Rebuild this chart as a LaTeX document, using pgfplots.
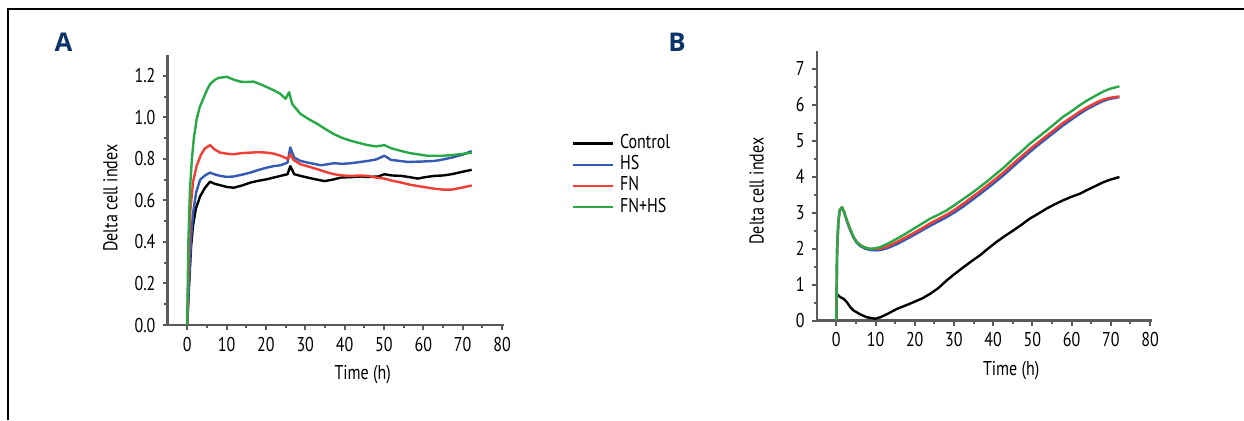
\documentclass[border=0pt]{standalone}
\usepackage{pgfplots}
\pgfplotsset{compat=1.18}
\usepackage{fontspec}
\setmainfont[FakeStretch=0.8]{PT Sans}
\newfontfamily\panelfont{Open Sans}
\definecolor{cblue}{RGB}{52,90,180}
\definecolor{cred}{RGB}{240,62,52}
\definecolor{cgreen}{RGB}{40,168,70}
\definecolor{navy}{RGB}{12,52,104}
\definecolor{axgray}{RGB}{90,90,90}
\pgfplotsset{
  common/.style={
    scale only axis,
    axis lines=left,
    axis line style={axgray, line width=1.2pt, -},
    tick style={axgray, line width=1pt},
    tick align=outside,
    major tick length=2.5pt,
    minor tick length=1.6pt,
    xmin=-5, xmax=80.5,
    xtick={0,10,...,80},
    minor x tick num=1,
    minor y tick num=1,
    ymin=0,
    font=\fontsize{10}{12}\selectfont,
    /pgf/number format/assume math mode=true,
    xlabel={Time (h)},
    ylabel={Delta cell index},
    xlabel style={at={(axis description cs:0.58,0)}, anchor=center, yshift=-25pt},
    every axis plot/.append style={line width=1.2pt, line join=round},
  }
}
\begin{document}
\begin{tikzpicture}
\useasboundingbox (0pt,0pt) rectangle (622pt,210pt);
\draw[line width=0.6pt] (4pt,0pt) -- (4pt,205.5pt) -- (622pt,205.5pt);
\node[font=\panelfont\bfseries\fontsize{12.9}{14}\selectfont, text=navy] at (31.75pt,189pt) {A};
\node[font=\panelfont\bfseries\fontsize{12.9}{14}\selectfont, text=navy] at (338.5pt,189pt) {B};

\begin{axis}[common,
  at={(83.75pt,47.5pt)}, anchor=south west,
  width=168.25pt, height=135pt,
  ymax=1.3,
  ytick={0,0.2,...,1.2},
  ylabel style={at={([xshift=-28.5pt]axis description cs:0,0.47)}, anchor=center},
  yticklabel style={/pgf/number format/.cd, fixed, fixed zerofill, precision=1},
  legend style={at={(axis description cs:1.2,0.707)}, anchor=north west, draw=none, fill=none,
    font=\fontsize{10}{10}\selectfont, row sep=1.6pt, inner sep=0pt,
    nodes={inner sep=0.5pt, text height=6.5pt, text depth=1.5pt}},
  legend cell align=left,
  legend image code/.code={\draw[#1] (0pt,0pt) -- (20pt,0pt); \path (22.5pt,0pt);},
]
\addplot[black] coordinates {
(0,0) (0.5,0.2) (1,0.38) (1.5,0.48) (2.2,0.56) (3.3,0.62) (4.5,0.66) (5.8,0.69) (7,0.68) (8.4,0.673)
(10,0.665) (11.8,0.661) (14,0.672) (16.1,0.686) (18,0.694) (20.3,0.702) (22,0.71) (23.7,0.718) (25.5,0.726)
(26.2,0.765) (27.2,0.726) (28.8,0.718) (30.6,0.71) (32.5,0.702) (34.9,0.693) (37,0.70) (39.1,0.71)
(41.6,0.712) (44.2,0.715) (46,0.713) (48.5,0.715) (50.1,0.726) (52,0.72) (54.4,0.718) (56.5,0.712)
(58.6,0.705) (60.5,0.712) (62.9,0.718) (65,0.72) (67.2,0.726) (70,0.738) (72.3,0.747)};
\addlegendentry{Control}
\addplot[cblue] coordinates {
(0,0) (0.5,0.22) (1,0.42) (1.5,0.54) (2.3,0.64) (3.3,0.70) (4.5,0.72) (5.8,0.734) (7,0.725) (8.4,0.718)
(10,0.713) (11.8,0.715) (14,0.724) (16.1,0.734) (18,0.746) (20.3,0.758) (22,0.765) (23.7,0.769) (25.5,0.782)
(26.2,0.855) (27.2,0.806) (28.8,0.79) (30.6,0.782) (32.5,0.775) (34,0.769) (37.3,0.779) (39.5,0.776)
(41.6,0.779) (44,0.785) (45.9,0.79) (48,0.797) (50.1,0.815) (51.8,0.795) (54,0.79) (56.1,0.785)
(59.5,0.787) (62.9,0.79) (65,0.797) (67.2,0.806) (70,0.82) (72.3,0.838)};
\addlegendentry{HS}
\addplot[cred] coordinates {
(0,0) (0.4,0.3) (0.8,0.55) (1.5,0.69) (2.4,0.766) (3.5,0.82) (4.5,0.85) (5.8,0.866) (7,0.845) (8.4,0.83)
(10,0.825) (11.8,0.822) (14,0.828) (16.1,0.83) (18,0.832) (20.3,0.83) (22,0.825) (23.7,0.815) (25.5,0.800)
(26.2,0.822) (27,0.795) (28.8,0.774) (31,0.762) (33.1,0.75) (35,0.738) (37.3,0.726) (39.5,0.72)
(41.6,0.718) (44,0.72) (45.9,0.718) (48,0.71) (50.1,0.705) (52,0.695) (54.4,0.686) (56.5,0.676)
(58.6,0.669) (61,0.662) (62.9,0.656) (65,0.652) (67.2,0.652) (70,0.662) (72.3,0.672)};
\addlegendentry{FN}
\addplot[cgreen] coordinates {
(0,0) (0.3,0.4) (0.7,0.65) (1.2,0.8) (1.7,0.9) (2.4,0.99) (3.2,1.05) (4.1,1.09) (5,1.13) (5.8,1.16)
(7,1.18) (8,1.19) (10.1,1.195) (12,1.18) (13.5,1.172) (15,1.17) (16.9,1.172) (18.5,1.16) (20.3,1.145)
(22,1.13) (23.7,1.113) (25,1.089) (25.9,1.121) (26.7,1.064) (28.8,1.016) (31,0.99) (33.1,0.968)
(35,0.945) (37.3,0.919) (39.5,0.9) (41.6,0.887) (44,0.875) (45.9,0.866) (48,0.86) (50.1,0.866)
(52,0.85) (54.4,0.838) (56.5,0.828) (58.6,0.822) (61,0.815) (62.9,0.815) (65,0.815) (67.2,0.818)
(70,0.824) (72.3,0.83)};
\addlegendentry{FN+HS}
\end{axis}

\begin{axis}[common,
  at={(408.35pt,49.75pt)}, anchor=south west,
  width=167.65pt, height=134.9pt,
  ymax=7.5,
  ytick={0,1,...,7},
  ylabel style={at={([xshift=-30pt]axis description cs:0,0.48)}, anchor=center},
]
\addplot[black] coordinates {
(0,0) (0.1,0.74) (1,0.65) (1.9,0.6) (2.7,0.51) (3.5,0.38) (4.4,0.28) (6.1,0.17) (7.8,0.09) (9.9,0.05)
(11.2,0.09) (13,0.18) (15.4,0.32) (17.5,0.41) (19.7,0.51) (22,0.62) (23.9,0.74) (26,0.9) (28.1,1.11)
(30,1.28) (32.4,1.48) (34.5,1.65) (36.6,1.81) (38.7,2.0) (40.8,2.18) (43,2.35) (45.1,2.50) (47.2,2.66)
(49.3,2.83) (51.5,2.97) (53.6,3.11) (55.7,3.23) (57.8,3.34) (60,3.44) (62,3.52) (64,3.63) (66.3,3.75)
(68,3.84) (69.7,3.91) (72.2,3.99)};
\addplot[cblue] coordinates {
(0,0) (0.2,1.95) (0.5,2.7) (0.85,3.06) (1.44,3.14) (2,3.0) (2.7,2.76) (3.5,2.52) (4.4,2.3) (5.2,2.16)
(6.1,2.07) (7.3,2.0) (8.6,1.96) (10,1.95) (11.2,1.96) (13,2.01) (15.4,2.12) (17.5,2.24) (19.7,2.37)
(21.8,2.50) (23.9,2.63) (26,2.75) (28.1,2.87) (30.2,3.01) (32.4,3.17) (34.5,3.34) (36.6,3.51) (38.7,3.69)
(40.8,3.87) (43,4.07) (45.1,4.28) (47.2,4.48) (49.3,4.68) (51.5,4.88) (53.6,5.06) (55.7,5.24) (57.8,5.42)
(60,5.59) (62,5.74) (64,5.88) (66.3,6.01) (68,6.10) (69.7,6.16) (72.2,6.21)};
\addplot[cred] coordinates {
(0,0) (0.2,1.95) (0.5,2.7) (0.85,3.06) (1.44,3.15) (2,3.02) (2.7,2.78) (3.5,2.55) (4.4,2.32) (5.2,2.19)
(6.1,2.1) (7.3,2.03) (8.6,1.99) (10,1.99) (11.2,2.0) (13,2.06) (15.4,2.18) (17.5,2.30) (19.7,2.43)
(21.8,2.56) (23.9,2.70) (26,2.82) (28.1,2.94) (30.2,3.08) (32.4,3.25) (34.5,3.42) (36.6,3.59) (38.7,3.77)
(40.8,3.95) (43,4.15) (45.1,4.36) (47.2,4.56) (49.3,4.76) (51.5,4.95) (53.6,5.13) (55.7,5.31) (57.8,5.49)
(60,5.65) (62,5.80) (64,5.93) (66.3,6.06) (68,6.14) (69.7,6.19) (72.2,6.23)};
\addplot[cgreen] coordinates {
(0,0) (0.2,1.95) (0.5,2.7) (0.85,3.06) (1.44,3.15) (2,3.02) (2.7,2.78) (3.5,2.55) (4.4,2.32) (5.2,2.18)
(6.1,2.09) (7.3,2.03) (8.6,1.99) (10,2.01) (11.2,2.04) (13,2.13) (15.4,2.27) (17.5,2.40) (19.7,2.55)
(21.8,2.69) (23.9,2.83) (26,2.94) (28.1,3.06) (30.2,3.21) (32.4,3.38) (34.5,3.54) (36.6,3.71) (38.7,3.89)
(40.8,4.08) (43,4.28) (45.1,4.50) (47.2,4.70) (49.3,4.91) (51.5,5.10) (53.6,5.28) (55.7,5.47) (57.8,5.66)
(60,5.82) (62,5.98) (64,6.12) (66.3,6.26) (68,6.36) (69.7,6.44) (72.2,6.51)};
\end{axis}
\end{tikzpicture}
\end{document}
